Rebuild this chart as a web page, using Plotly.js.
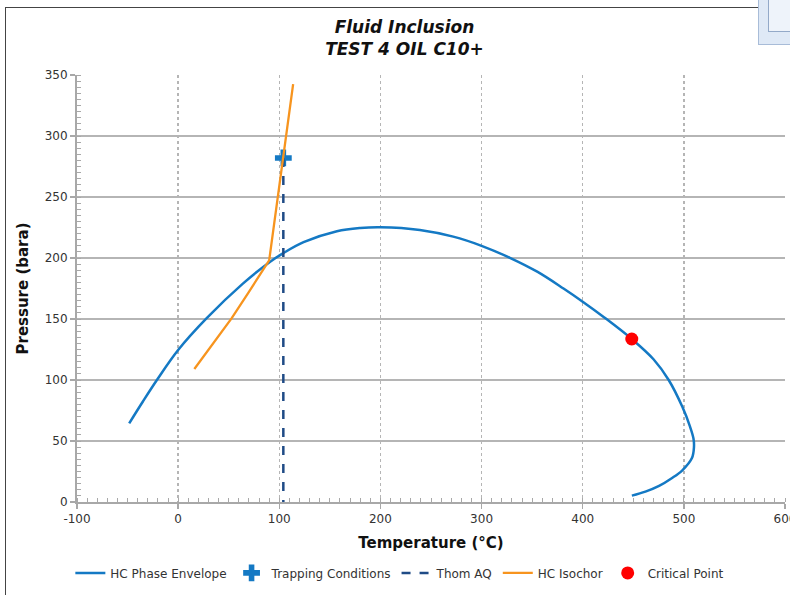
<!DOCTYPE html>
<html>
<head>
<meta charset="utf-8">
<script src="https://cdn.plot.ly/plotly-3.0.1.min.js"></script>
<style>
  html, body { margin:0; padding:0; background:#fff; overflow:hidden; }
  #chart { position:absolute; left:0; top:0; width:790px; height:595px; }
  #frame { position:absolute; left:5px; top:7px; width:820px; height:620px; border:1.5px solid #444; pointer-events:none; }
  #corner { position:absolute; left:758px; top:-2px; width:40px; height:45px; background:#dfe9f6; border:1px solid #a8bcd8; }
  #corner2 { position:absolute; left:768px; top:-2px; width:30px; height:33px; background:#eef3fa; border-left:1px solid #93a9c8; border-bottom:1px solid #93a9c8; }
</style>
</head>
<body>
<div id="chart"></div>
<div id="frame"></div>
<div id="corner"></div>
<div id="corner2"></div>
<script>
// HC Phase Envelope
const envT = [-48.4, -35, -21, 0, 28, 64, 91, 104, 124, 157, 180, 200, 239, 272, 300, 328, 355, 381, 400, 421, 448.5, 470, 485, 498.5, 506, 509.5, 510, 508, 498.5, 488, 475.5, 462, 448.6];
const envP = [64.5, 82.2, 100, 124.6, 150.5, 179, 197, 204, 213, 222, 224.6, 225.2, 223, 217.5, 210, 200.2, 188.8, 175, 164.2, 151.5, 133.6, 117, 100, 78, 62, 52, 45, 36, 26, 19.5, 13.2, 8.5, 5.2];
// HC Isochor
const isoT = [16, 34, 52.8, 70, 90, 113.7];
const isoP = [109, 129.3, 150.5, 172.3, 198, 342.6];
// Trapping Conditions
const trapT = [104];
const trapP = [282];
// Thom AQ
const thomT = [104, 104];
const thomP = [282, 0];
// Critical Point
const critT = [448.5];
const critP = [133.6];
// Axis ticks
const xTickVals = [-100, 0, 100, 200, 300, 400, 500, 600];
const xTickText = ['-100', '0', '100', '200', '300', '400', '500', '600'];

const FONT = '"DejaVu Sans", Verdana, Tahoma, sans-serif';

const traces = [
  { name: 'HC Phase Envelope', x: envT, y: envP, mode: 'lines', type: 'scatter',
    line: { color: '#1479c4', width: 2.5, shape: 'spline', smoothing: 1 } },
  { name: 'Trapping Conditions', x: trapT, y: trapP, mode: 'markers', type: 'scatter',
    marker: { symbol: 'cross', size: 14, color: '#1479c4' } },
  { name: 'Thom AQ', x: thomT, y: thomP, mode: 'lines', type: 'scatter',
    line: { color: '#1f4b86', width: 2.5, dash: 'dash' } },
  { name: 'HC Isochor', x: isoT, y: isoP, mode: 'lines', type: 'scatter',
    line: { color: '#f7941e', width: 2.3 } },
  { name: 'Critical Point', x: critT, y: critP, mode: 'markers', type: 'scatter',
    marker: { symbol: 'circle', size: 13, color: '#ff0000' } }
];

const layout = {
  width: 790, height: 595,
  margin: { l: 77, r: 5, t: 75, b: 93 },
  paper_bgcolor: 'rgba(0,0,0,0)',
  plot_bgcolor: '#ffffff',
  font: { family: FONT, size: 12, color: '#333' },
  title: {
    text: '<b><i>Fluid Inclusion</i></b><br><b><i>TEST 4 OIL C10+</i></b>',
    font: { family: FONT, size: 17, color: '#111' },
    x: 0.512, xref: 'container', xanchor: 'center',
    y: 1, yref: 'paper', yanchor: 'bottom',
    pad: { b: 42 }
  },
  xaxis: {
    range: [-100, 600],
    tickmode: 'array', tickvals: xTickVals, ticktext: xTickText,
    ticklabeloverflow: 'allow',
    showgrid: true, gridcolor: '#b5b5b5', gridwidth: 1.5, griddash: 'dot',
    zeroline: false,
    showline: true, linecolor: '#a8a8a8', linewidth: 2,
    ticks: 'outside', ticklen: 5, tickcolor: '#a8a8a8', tickwidth: 1.5,
    minor: { dtick: 10, ticks: 'inside', ticklen: 4, tickcolor: '#a8a8a8', tickwidth: 1, showgrid: false },
    tickfont: { family: FONT, size: 12, color: '#333' },
    title: { text: '<b>Temperature (°C)</b>', font: { family: FONT, size: 15, color: '#111' }, standoff: 12 }
  },
  yaxis: {
    range: [0, 350], dtick: 50,
    showgrid: true, gridcolor: '#b5b5b5', gridwidth: 2, griddash: 'solid',
    zeroline: false,
    showline: true, linecolor: '#a8a8a8', linewidth: 2,
    ticks: 'outside', ticklen: 5, tickcolor: '#a8a8a8', tickwidth: 1.5,
    minor: { dtick: 5, ticks: 'inside', ticklen: 4, tickcolor: '#a8a8a8', tickwidth: 1, showgrid: false },
    tickfont: { family: FONT, size: 12, color: '#333' },
    title: { text: '<b>Pressure (bara)</b>', font: { family: FONT, size: 15, color: '#111' }, standoff: 12 }
  },
  showlegend: true,
  legend: {
    orientation: 'h', x: 0.456, xanchor: 'center', y: -0.166, yanchor: 'middle',
    font: { family: FONT, size: 12, color: '#333' },
    itemwidth: 30, tracegroupgap: 0, bgcolor: 'rgba(0,0,0,0)'
  }
};

Plotly.newPlot('chart', traces, layout, { displayModeBar: false, staticPlot: true });
</script>
</body>
</html>
